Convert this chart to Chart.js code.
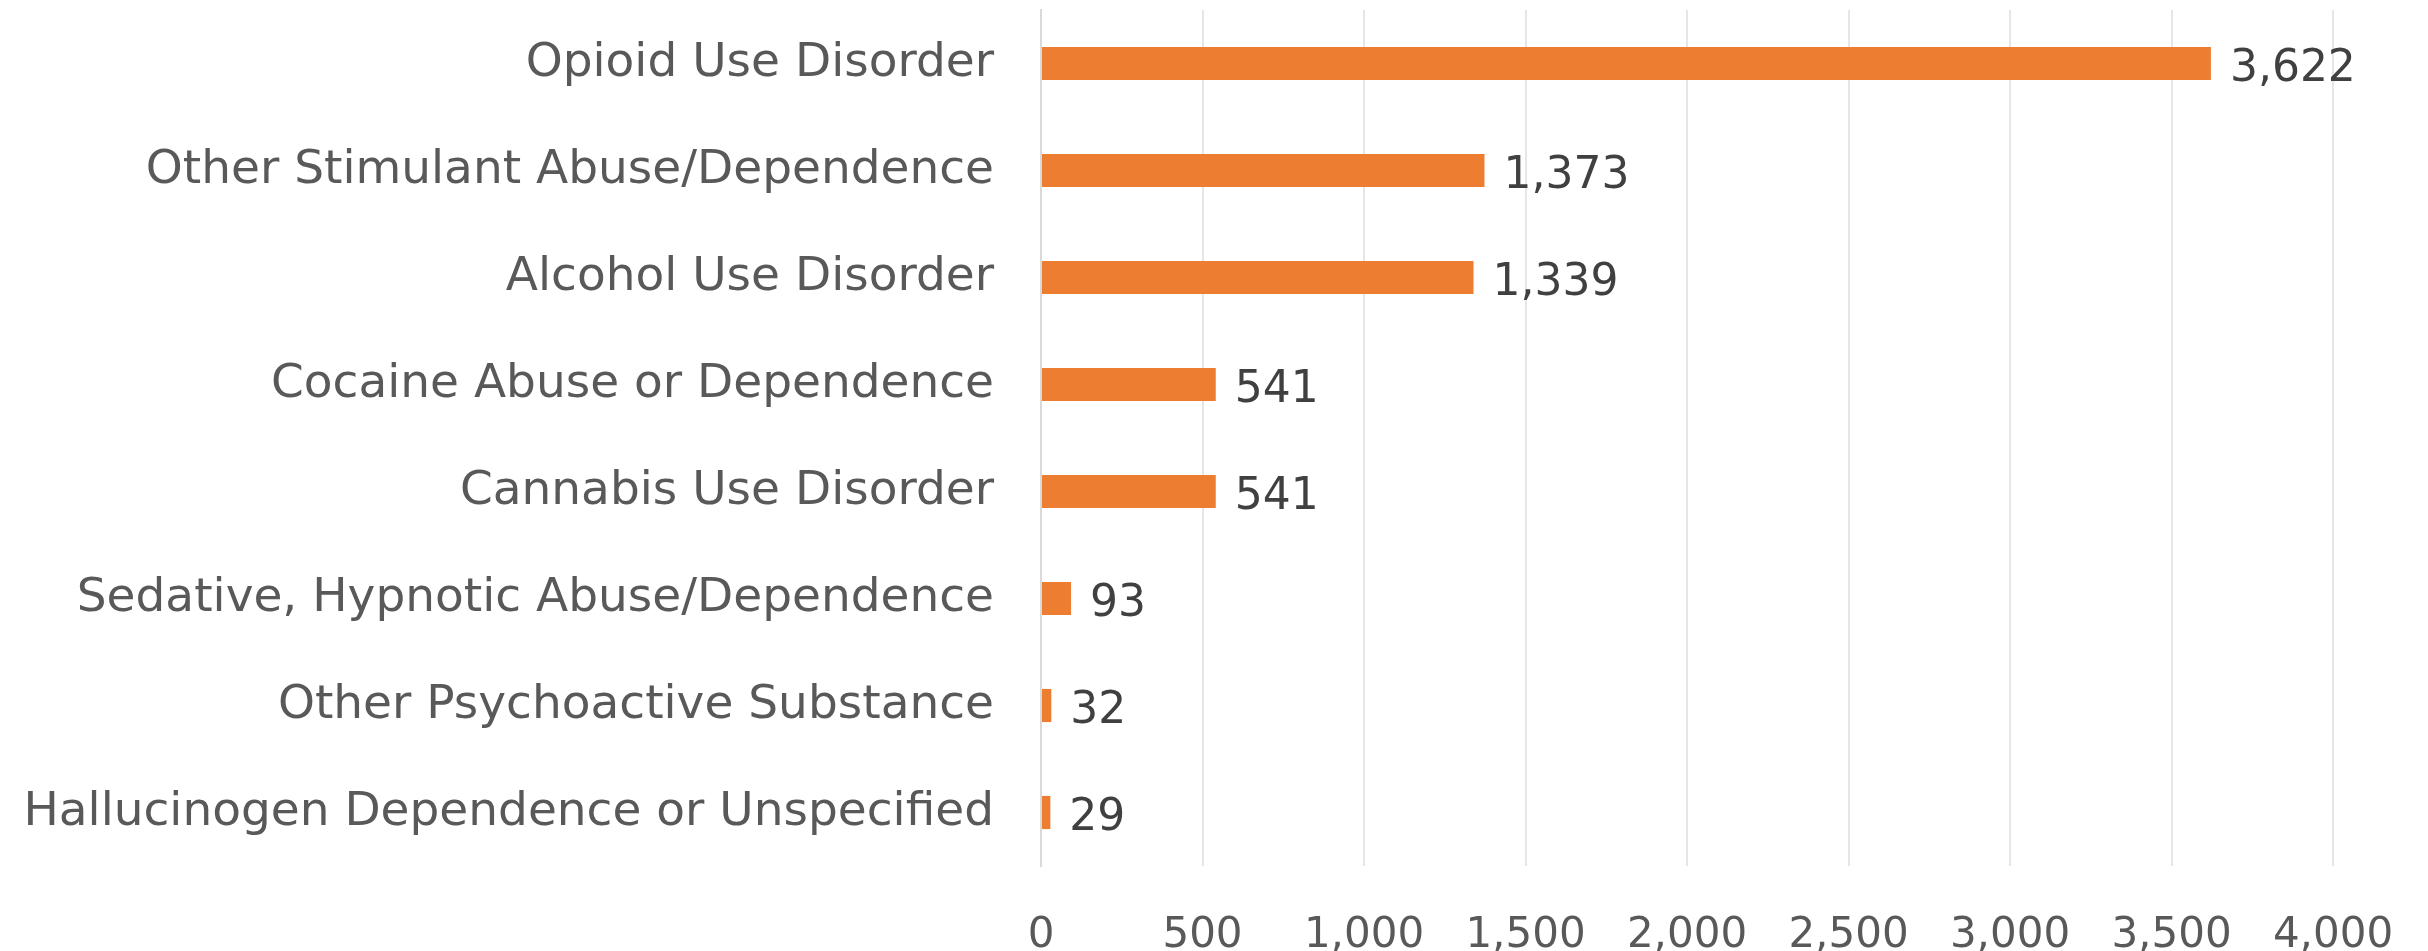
<!DOCTYPE html>
<html>
<head>
<meta charset="utf-8">
<script src="https://cdn.jsdelivr.net/npm/chart.js@4/dist/chart.umd.min.js"></script>
<style>
    html, body { margin: 0; padding: 0; background: #ffffff; }
    #wrap { width: 2428px; height: 951px; }
</style>
</head>
<body>
<div id="wrap"><canvas id="chart" width="2428" height="951"></canvas></div>
<script>
// Substance use diagnoses, counts per category
var categories = [
    'Opioid Use Disorder',
    'Other Stimulant Abuse/Dependence',
    'Alcohol Use Disorder',
    'Cocaine Abuse or Dependence',
    'Cannabis Use Disorder',
    'Sedative, Hypnotic Abuse/Dependence',
    'Other Psychoactive Substance',
    'Hallucinogen Dependence or Unspecified'
];
var counts = [3622, 1373, 1339, 541, 541, 93, 32, 29];
var xTicks = [0, 500, 1000, 1500, 2000, 2500, 3000, 3500, 4000];

var FONT = "'DejaVu Sans', sans-serif";

function fmt(v) {
    return Number(v).toLocaleString('en-US');
}

// draw the value next to the end of each bar
var barValueLabels = {
    id: 'barValueLabels',
    afterDatasetsDraw: function (chart) {
        var ctx = chart.ctx;
        var meta = chart.getDatasetMeta(0);
        ctx.save();
        ctx.font = '44px ' + FONT;
        ctx.fillStyle = '#404040';
        ctx.textAlign = 'left';
        ctx.textBaseline = 'middle';
        meta.data.forEach(function (bar, i) {
            ctx.fillText(fmt(chart.data.datasets[0].data[i]), bar.x + 19, bar.y + 6);
        });
        ctx.restore();
    }
};

new Chart(document.getElementById('chart'), {
    type: 'bar',
    data: {
        labels: categories,
        datasets: [{
            data: counts,
            backgroundColor: '#ED7D31',
            borderWidth: 0,
            barPercentage: 0.31,
            categoryPercentage: 1
        }]
    },
    options: {
        indexAxis: 'y',
        responsive: false,
        devicePixelRatio: 1,
        animation: false,
        layout: { padding: { top: 10, right: 95, bottom: 0, left: 0 } },
        plugins: {
            legend: { display: false },
            tooltip: { enabled: false }
        },
        scales: {
            x: {
                min: 0,
                max: 4000,
                afterBuildTicks: function (scale) {
                    scale.ticks = xTicks.map(function (v) { return { value: v }; });
                },
                afterFit: function (scale) {
                    scale.height = 85;
                    scale.paddingLeft = 0;
                    scale.paddingRight = 0;
                },
                grid: { color: '#e6e6e6', lineWidth: 2, drawTicks: false },
                border: { display: false },
                ticks: {
                    padding: 45,
                    color: '#595959',
                    font: { family: FONT, size: 42 },
                    maxRotation: 0,
                    callback: function (v) { return fmt(v); }
                }
            },
            y: {
                afterFit: function (scale) {
                    scale.width = 1041;
                    scale.paddingTop = 0;
                    scale.paddingBottom = 0;
                },
                grid: { display: false, drawTicks: false },
                border: { display: true, color: '#d9d9d9', width: 2 },
                ticks: {
                    padding: 47,
                    color: '#595959',
                    font: { family: FONT, size: 47 }
                }
            }
        }
    },
    plugins: [barValueLabels]
});
</script>
</body>
</html>
